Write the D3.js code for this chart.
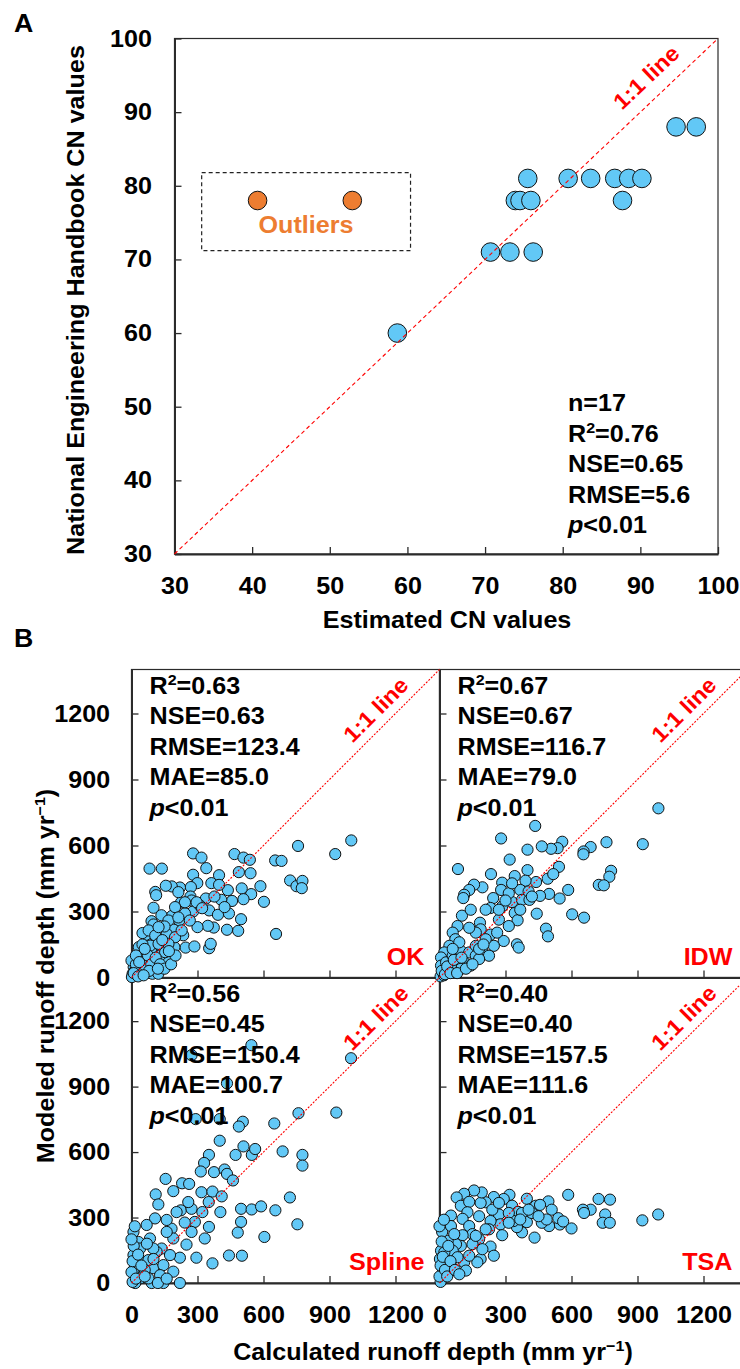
<!DOCTYPE html>
<html><head><meta charset="utf-8">
<script src="https://cdn.jsdelivr.net/npm/d3@7"></script>
<style>body{margin:0;background:#fff}</style>
</head><body>
<svg id="chart" width="740" height="1369"></svg>
<script>
// ---------- Panel A data ----------
const cnEstimated = [58.7,70.7,73.2,76.2,73.9,74.5,75.9,87.7,75.5,80.7,83.6,86.7,88.5,90.2,94.6,97.2];
const cnHandbook  = [60,71,71,71,78,78,78,78,81,81,81,81,81,81,88,88];
const outlierEstimated = [40.7,52.9];
const outlierHandbook  = [78,78];
const cnTicks = [30,40,50,60,70,80,90,100];
const statsA = ["n=17","R2=0.76","NSE=0.65","RMSE=5.6","p<0.01"];

// ---------- Panel B data (calculated, modeled) ----------
const runoffTicks = [0,300,600,900,1200];
const methods = ["OK","IDW","Spline","TSA"];
const okCalc = [999,757,926,280,318,340,468,509,538,653,682,82,138,280,398,488,541,721,750,777,774,657,586,602,544,501,509,438,457,408,363,398,299,270,220,183,156,108,112,100,225,268,338,377,353,393,443,498,485,434,374,347,300,280,243,184,136,91,100,217,235,192,160,246,286,353,360,187,195,135,77,65,50,111,141,88,40,25,10,5,45,63,100,95,160,130,70,33,122,153,273,243,198,311,423,213,296,321,168,150,78,108,55,198,228,265,213,123,85,33,123,168,62,0,2,25,15,40,60,20,20,35,50,75,90,110,130,150,180,200,60,80,120,140,170,10,30,55];
const okMod  = [623,598,561,564,545,497,561,545,535,532,530,495,495,467,465,479,474,441,415,439,406,198,415,344,379,405,356,397,348,353,429,421,429,411,409,414,417,389,374,317,341,368,359,368,305,285,291,265,212,217,227,235,229,300,291,280,283,256,241,259,192,217,198,136,141,133,153,109,138,120,168,194,202,183,145,123,97,85,47,17,62,32,47,17,77,100,70,39,17,115,350,342,320,327,320,388,342,315,259,232,214,191,115,183,214,259,273,229,145,138,153,153,92,77,2,17,30,20,55,60,100,70,150,100,60,90,60,40,60,100,130,30,40,170,120,20,5,10];
const idwCalc = [995,435,280,924,759,687,655,654,558,537,507,465,400,319,84,234,342,400,492,543,517,780,772,724,747,585,546,498,457,439,391,367,285,280,244,195,157,135,112,108,102,232,285,330,375,409,342,355,442,603,657,484,493,352,360,292,247,232,184,187,165,135,82,60,72,45,22,7,7,30,60,97,135,165,195,225,112,75,15,97,210,270,315,367,315,210,262,330,142,165,180,142,52,270,405,420,300,5,20,40,10,25,35,50,65,80,100,120,150,180,200,90,60];
const idwMod  = [769,689,632,606,615,593,573,560,617,588,585,596,581,536,493,470,461,488,449,503,470,485,458,421,419,398,359,380,371,434,440,398,431,398,361,410,422,398,376,361,281,316,323,343,353,353,293,260,290,287,272,222,187,151,136,166,144,195,249,219,204,226,234,204,174,144,114,91,54,69,99,121,114,99,121,99,69,46,24,39,174,263,234,308,383,308,204,428,308,144,84,54,54,308,391,368,350,5,10,30,30,15,50,20,80,20,90,40,60,130,150,160,130];
const splineCalc = [545,273,998,434,292,401,506,488,649,759,931,401,352,473,509,547,562,687,777,777,330,315,375,423,434,461,155,230,262,190,318,368,410,110,122,224,273,322,288,352,404,351,498,546,589,654,720,754,498,483,604,443,502,368,107,182,242,190,250,295,220,137,84,9,32,9,54,99,145,190,220,145,92,39,17,24,77,114,160,273,333,258,205,160,69,39,99,175,130,77,5,10,60,0,5,10,20,30,45,60,70,100,120,160,0,15];
const splineMod  = [1090,1044,1030,915,751,751,739,717,731,778,781,652,587,587,626,587,614,603,587,538,550,511,508,520,500,470,477,457,454,421,416,419,397,406,360,333,340,325,280,257,325,371,340,337,351,333,392,269,280,231,211,126,125,90,296,249,277,204,176,116,116,158,204,234,188,128,97,68,82,52,0,0,0,21,0,52,105,143,234,234,204,371,325,289,266,158,158,128,36,21,5,60,60,50,100,170,20,130,80,30,180,110,0,20,200,260];
const tsaCalc = [994,922,775,723,585,753,742,774,687,652,657,600,547,495,510,498,465,487,432,438,397,397,375,352,318,292,247,210,187,192,157,112,78,97,135,127,52,105,135,270,330,357,277,285,337,232,225,180,150,105,97,75,37,12,7,2,15,7,112,120,60,187,172,232,247,195,150,60,30,82,135,240,315,420,450,375,405,270,180,210,315,367,457,540,562,52,67,165,22,5,20,45,0,5,10,15,25,35,40,50,70,90,0,20];
const tsaMod  = [314,287,382,385,404,314,276,276,336,336,321,250,268,374,336,261,276,291,208,354,386,279,232,256,404,385,394,370,367,415,424,409,392,354,372,324,309,294,261,314,354,326,269,219,284,284,246,201,224,219,170,178,193,234,148,110,65,20,95,57,110,110,95,167,125,155,178,148,95,118,125,336,321,321,306,321,336,367,306,246,276,291,358,297,282,261,224,216,140,5,40,50,30,80,190,120,60,30,170,100,60,40,260,290];
const statsB = [
  ["R2=0.63","NSE=0.63","RMSE=123.4","MAE=85.0","p<0.01"],
  ["R2=0.67","NSE=0.67","RMSE=116.7","MAE=79.0","p<0.01"],
  ["R2=0.56","NSE=0.45","RMSE=150.4","MAE=100.7","p<0.01"],
  ["R2=0.40","NSE=0.40","RMSE=157.5","MAE=111.6","p<0.01"]
];

// ---------- helpers ----------
const SX = 1.07;
const FONT = "'Liberation Sans', Arial, Helvetica, sans-serif";
const BLUE = "#62C8F6", ORANGE = "#ED7D31", RED = "#FF0000", AX = "#2b2b2b";
const fmt = d3.format('d');
const svg = d3.select('#chart').attr('font-family', FONT).attr('font-weight', 'bold');

function addText(parent, x, y, size, anchor, fill, rot) {
  return parent.append('text')
    .attr('transform', `translate(${x},${y}) rotate(${rot||0}) scale(${SX},1)`)
    .attr('font-size', size).attr('text-anchor', anchor || 'start')
    .attr('fill', fill || '#000');
}
function statLine(t, str) {
  if (str.startsWith('R2')) {
    t.append('tspan').text('R');
    t.append('tspan').attr('font-size', 15).attr('dy', -9).text('2');
    t.append('tspan').attr('dy', 9).text(str.slice(2));
  } else if (str.startsWith('p')) {
    t.append('tspan').attr('font-style', 'italic').text('p');
    t.append('tspan').text(str.slice(1));
  } else t.text(str);
}
function styleAxis(g, showLabels) {
  g.attr('font-family', FONT).attr('font-size', 23.5).attr('font-weight', 'bold');
  g.select('.domain').attr('stroke', AX).attr('stroke-width', 2);
  g.selectAll('.tick line').attr('stroke', AX).attr('stroke-width', 1.3);
  g.selectAll('.tick text').attr('fill', '#000').attr('transform', `scale(${SX},1)`);
  if (!showLabels) g.selectAll('.tick text').remove();
}

// ================= Panel A =================
const xA = d3.scaleLinear([30,100],[174.5,718]);
const yA = d3.scaleLinear([30,100],[554,38.5]);
const gA = svg.append('g');
gA.append('rect').attr('x', xA(30)).attr('y', yA(100))
  .attr('width', xA(100)-xA(30)).attr('height', yA(30)-yA(100))
  .attr('fill','none').attr('stroke', AX).attr('stroke-width', 1.2);
gA.append('g').attr('transform', `translate(0,${yA(30)})`)
  .call(d3.axisBottom(xA).tickValues(cnTicks).tickFormat(fmt).tickSizeInner(-7).tickSizeOuter(0).tickPadding(23))
  .call(g => styleAxis(g, true));
gA.append('g').attr('transform', `translate(${xA(30)},0)`)
  .call(d3.axisLeft(yA).tickValues(cnTicks).tickFormat(fmt).tickSizeInner(-7).tickSizeOuter(0).tickPadding(21))
  .call(g => styleAxis(g, true));

gA.append('rect').attr('x', xA(33.5)).attr('y', yA(81.8))
  .attr('width', xA(60.4)-xA(33.5)).attr('height', yA(71.2)-yA(81.8))
  .attr('fill','none').attr('stroke','#222').attr('stroke-width',1.2).attr('stroke-dasharray','4,3');

gA.selectAll('circle.a').data(d3.range(cnEstimated.length)).join('circle')
  .attr('cx', i => xA(cnEstimated[i])).attr('cy', i => yA(cnHandbook[i])).attr('r', 9.3)
  .attr('fill', BLUE).attr('stroke', '#111').attr('stroke-width', 1);
gA.selectAll('circle.o').data(d3.range(outlierEstimated.length)).join('circle')
  .attr('cx', i => xA(outlierEstimated[i])).attr('cy', i => yA(outlierHandbook[i])).attr('r', 9.3)
  .attr('fill', ORANGE).attr('stroke', '#111').attr('stroke-width', 1);

gA.append('line').attr('x1', xA(30)).attr('y1', yA(30)).attr('x2', xA(100)).attr('y2', yA(100))
  .attr('stroke', RED).attr('stroke-width', 1.1).attr('stroke-dasharray', '4,3');

const angA = -Math.atan2(yA(30)-yA(100), xA(100)-xA(30)) * 180 / Math.PI;
addText(gA, 646, 77, 22, 'middle', RED, angA).attr('dy', 8).text('1:1 line');
addText(gA, 306, 233, 23.5, 'middle', ORANGE).text('Outliers');
statsA.forEach((s, i) => statLine(addText(gA, 568, 411 + i*30.5, 23.5), s));

addText(gA, 447, 628, 23.5, 'middle').text('Estimated CN values');
addText(gA, 84, 300, 23.5, 'middle', '#000', -90).text('National Engineering Handbook CN values');
addText(svg, 14, 32, 25).text('A');

// ================= Panel B =================
addText(svg, 14, 647, 25).text('B');
const cols = [[131.5, 439.5],[439.5, 747.5]];
const rows = [[977.5, 669.5],[1283, 977.5]];
const dataB = [[okCalc, okMod],[idwCalc, idwMod],[splineCalc, splineMod],[tsaCalc, tsaMod]];
const panels = methods.map((m, k) => {
  const c = k % 2, r = Math.floor(k / 2);
  return {m, k, c, r,
    x: d3.scaleLinear([0,1400], cols[c]),
    y: d3.scaleLinear([0,1400], rows[r])};
});
const gB = svg.append('g');
panels.forEach(p => {
  const g = gB.append('g');
  g.append('rect').attr('x', p.x(0)).attr('y', p.y(1400))
    .attr('width', p.x(1400)-p.x(0)).attr('height', p.y(0)-p.y(1400))
    .attr('fill','none').attr('stroke', AX).attr('stroke-width', 1.2);
  g.append('g').attr('transform', `translate(0,${p.y(0)})`)
    .call(d3.axisBottom(p.x).tickValues(runoffTicks).tickFormat(fmt).tickSizeInner(-7).tickSizeOuter(0).tickPadding(23))
    .call(a => styleAxis(a, p.r === 1));
  g.append('g').attr('transform', `translate(${p.x(0)},0)`)
    .call(d3.axisLeft(p.y).tickValues(runoffTicks).tickFormat(fmt).tickSizeInner(-7).tickSizeOuter(0).tickPadding(20))
    .call(a => styleAxis(a, p.c === 0));
});
panels.forEach(p => {
  const [xs, ys] = dataB[p.k];
  gB.append('g').selectAll('circle').data(d3.range(xs.length)).join('circle')
    .attr('cx', i => p.x(xs[i])).attr('cy', i => p.y(ys[i])).attr('r', 5.6)
    .attr('fill', BLUE).attr('stroke', '#111').attr('stroke-width', 1);
});
panels.forEach(p => {
  gB.append('line').attr('x1', p.x(0)).attr('y1', p.y(0)).attr('x2', p.x(1400)).attr('y2', p.y(1400))
    .attr('stroke', RED).attr('stroke-width', 1.1).attr('stroke-dasharray', '2,1.5');
  const ang = -Math.atan2(p.y(0)-p.y(1400), p.x(1400)-p.x(0)) * 180 / Math.PI;
  addText(gB, p.x(0) + 244, p.y(1400) + 40, 22, 'middle', RED, ang).attr('dy', 8).text('1:1 line');
  addText(gB, p.x(0) + 293, p.y(0) - 13, 23.5, 'end', RED).text(p.m);
  statsB[p.k].forEach((s, i) => statLine(addText(gB, p.x(0) + 18, p.y(1400) + 24 + i*30.5, 23.5), s));
});

const tx = addText(svg, 433, 1360, 23.5, 'middle');
tx.append('tspan').text('Calculated runoff depth (mm yr');
tx.append('tspan').attr('font-size', 15).attr('dy', -9).text('\u22121');
tx.append('tspan').attr('dy', 9).text(')');
const ty = addText(svg, 54, 976, 23.5, 'middle', '#000', -90);
ty.append('tspan').text('Modeled runoff depth (mm yr');
ty.append('tspan').attr('font-size', 15).attr('dy', -9).text('\u22121');
ty.append('tspan').attr('dy', 9).text(')');
</script>
</body></html>
